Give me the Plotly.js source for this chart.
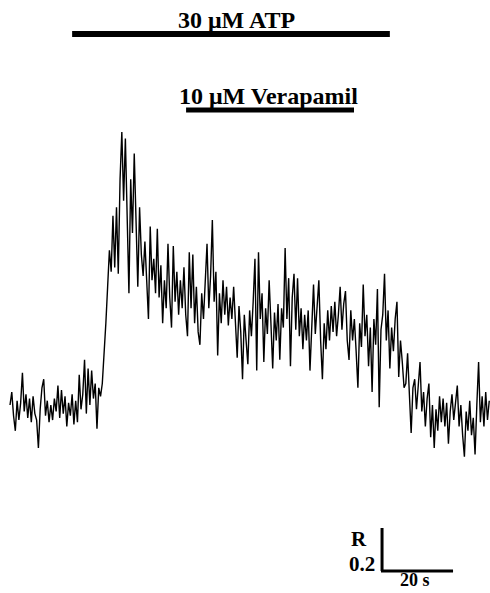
<!DOCTYPE html>
<html>
<head>
<meta charset="utf-8">
<script src="https://cdn.plot.ly/plotly-3.0.1.min.js"></script>
<style>html,body{margin:0;padding:0;background:#fff;}#chart{width:490px;height:593px;}</style>
</head>
<body>
<div id="chart"></div>
<script>
// Fura-2 ratio trace, sampled every 0.5 s
const sampleInterval = 0.5; // seconds
const ratio = [
  1.00, 1.06, 0.95, 0.88, 1.02, 0.93, 1.01, 1.15, 0.97, 1.05,
  0.94, 1.03, 0.92, 1.04, 0.96, 0.93, 0.80, 0.98, 1.08, 1.12,
  0.95, 1.02, 0.92, 1.00, 0.93, 1.03, 0.97, 1.09, 0.94, 1.07,
  0.96, 1.04, 0.90, 1.01, 0.95, 1.05, 0.91, 1.02, 0.92, 1.14,
  0.98, 1.05, 1.21, 0.96, 1.17, 1.00, 1.16, 1.03, 1.10, 0.89,
  1.08, 1.04, 1.10, 1.22, 1.38, 1.55, 1.72, 1.62, 1.88, 1.64,
  1.92, 1.61, 2.05, 2.27, 1.95, 2.24, 1.88, 1.52, 2.05, 1.80,
  2.17, 1.78, 1.55, 1.92, 1.70, 1.60, 1.76, 1.58, 1.40, 1.83,
  1.58, 1.68, 1.52, 1.82, 1.50, 1.65, 1.38, 1.58, 1.45, 1.75,
  1.50, 1.36, 1.74, 1.48, 1.62, 1.42, 1.58, 1.45, 1.64, 1.42,
  1.32, 1.71, 1.45, 1.70, 1.38, 1.55, 1.34, 1.28, 1.52, 1.40,
  1.58, 1.75, 1.45, 1.60, 1.86, 1.48, 1.62, 1.23, 1.52, 1.38,
  1.58, 1.42, 1.55, 1.37, 1.50, 1.40, 1.55, 1.36, 1.22, 1.46,
  1.34, 1.12, 1.42, 1.30, 1.19, 1.44, 1.32, 1.48, 1.68, 1.16,
  1.71, 1.40, 1.52, 1.20, 1.45, 1.33, 1.58, 1.38, 1.17, 1.43,
  1.30, 1.47, 1.21, 1.45, 1.36, 1.73, 1.40, 1.59, 1.18, 1.50,
  1.61, 1.35, 1.59, 1.32, 1.45, 1.26, 1.42, 1.30, 1.44, 1.16,
  1.40, 1.56, 1.33, 1.46, 1.58, 1.30, 1.12, 1.38, 1.26, 1.44,
  1.30, 1.46, 1.34, 1.48, 1.32, 1.42, 1.55, 1.35, 1.47, 1.53,
  1.30, 1.21, 1.44, 1.30, 1.40, 1.25, 1.08, 1.38, 1.27, 1.56,
  1.32, 1.42, 1.18, 1.36, 1.06, 1.40, 1.28, 1.54, 0.99, 1.35,
  1.42, 1.61, 1.30, 1.44, 1.17, 1.36, 1.25, 1.40, 1.48, 1.13,
  1.30, 1.20, 1.08, 1.10, 1.24, 1.05, 0.87, 1.08, 1.12, 0.98,
  1.08, 1.20, 0.97, 1.06, 0.90, 1.03, 1.10, 0.85, 1.00, 0.80,
  0.98, 0.88, 1.04, 0.92, 1.03, 0.90, 1.01, 0.82, 0.97, 1.05,
  0.93, 1.02, 1.09, 0.90, 1.00, 0.86, 0.76, 0.97, 0.88, 1.02,
  0.86, 0.94, 0.77, 1.00, 1.20, 0.92, 1.04, 0.90, 1.06, 0.93,
  1.02
];

// Drug application periods (s)
const drugLabels = ["30 μM ATP", "10 μM Verapamil"];
const drugStart = [17.5, 49.6];
const drugEnd = [107.0, 96.9];

// Scale bar sizes
const scaleTime = 20;   // s
const scaleRatio = 0.2; // R
const scaleTimeLabel = "20 s";
const scaleRatioLabel = ["R", "0.2"];

const time = ratio.map((_, i) => i * sampleInterval);

const trace = {
  x: time, y: ratio, type: "scatter", mode: "lines",
  line: {color: "#000", width: 1.4},
  hoverinfo: "skip"
};

// positions of the decorations, in axis units
const barY = [2.726, 2.372];
const barW = [6, 5];
const labelY = [2.79, 2.437];
const labelX = [63.7, 72.7];
const sbX0 = 104.8, sbY0 = 0.228;

const fontSerif = {family: "Liberation Serif, Times New Roman, serif", color: "#000"};

const shapes = [];
const annotations = [];
drugLabels.forEach((lab, k) => {
  shapes.push({type: "line", xref: "x", yref: "y",
    x0: drugStart[k], x1: drugEnd[k], y0: barY[k], y1: barY[k],
    line: {color: "#000", width: barW[k]}});
  annotations.push({xref: "x", yref: "y",
    x: labelX[k], y: labelY[k],
    text: "<b>" + lab + "</b>", showarrow: false,
    xanchor: "center", yanchor: "middle",
    font: Object.assign({size: 24}, fontSerif)});
});
// scale bar
shapes.push({type: "line", xref: "x", yref: "y",
  x0: sbX0, x1: sbX0, y0: sbY0, y1: sbY0 + scaleRatio,
  line: {color: "#000", width: 3}});
shapes.push({type: "line", xref: "x", yref: "y",
  x0: sbX0 - 0.3, x1: sbX0 + scaleTime, y0: sbY0, y1: sbY0,
  line: {color: "#000", width: 3}});
annotations.push({xref: "x", yref: "y", x: 101.2, y: 0.375,
  text: "<b>" + scaleRatioLabel[0] + "</b>", showarrow: false,
  xanchor: "right", yanchor: "middle", font: Object.assign({size: 21}, fontSerif)});
annotations.push({xref: "x", yref: "y", x: 103.3, y: 0.262,
  text: "<b>" + scaleRatioLabel[1] + "</b>", showarrow: false,
  xanchor: "right", yanchor: "middle", font: Object.assign({size: 21}, fontSerif)});
annotations.push({xref: "x", yref: "y", x: 114.2, y: 0.188,
  text: "<b>" + scaleTimeLabel + "</b>", showarrow: false,
  xanchor: "center", yanchor: "middle", font: Object.assign({size: 18}, fontSerif)});

const layout = {
  width: 490, height: 593,
  margin: {l: 0, r: 0, t: 0, b: 0, pad: 0},
  paper_bgcolor: "#fff", plot_bgcolor: "#fff",
  showlegend: false,
  xaxis: {visible: false, range: [-2.817, 135.21], fixedrange: true},
  yaxis: {visible: false, range: [0.1256, 2.8837], fixedrange: true},
  shapes: shapes,
  annotations: annotations
};

Plotly.newPlot("chart", [trace], layout, {staticPlot: true, displayModeBar: false});
</script>
</body>
</html>
